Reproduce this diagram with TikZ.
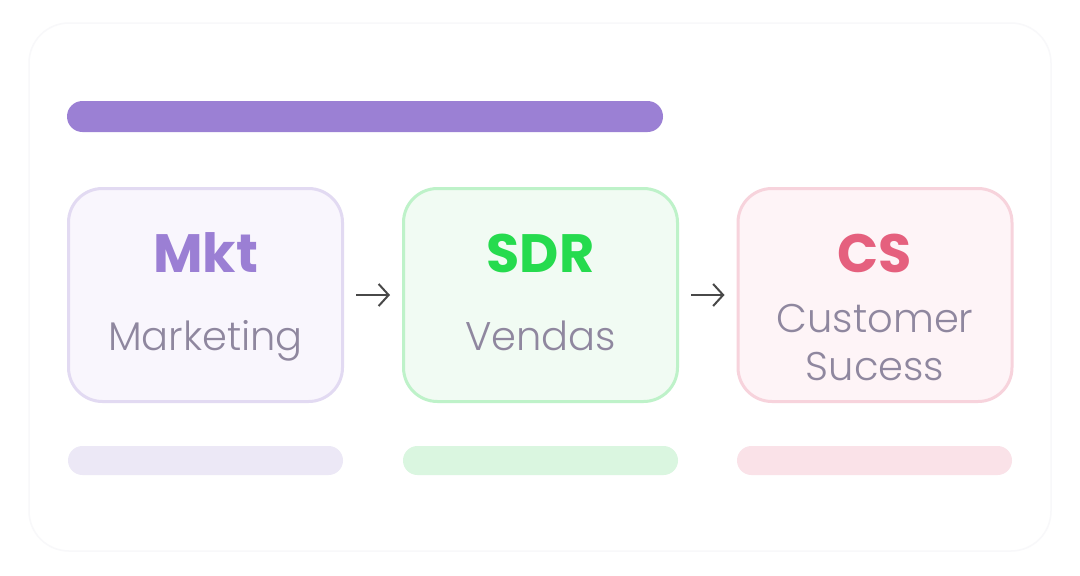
\documentclass[tikz,border=0pt]{standalone}
\usepackage{fontspec}
\setmainfont{Poppins}
\newfontfamily\lightfont{Poppins Light}
\usetikzlibrary{arrows.meta}
\definecolor{barpurple}{HTML}{9B80D4}
\definecolor{cardline}{HTML}{F8F8FA}
\definecolor{mktline}{HTML}{E2DAF2}
\definecolor{mktfill}{HTML}{F9F6FD}
\definecolor{sdrline}{HTML}{BEF2C9}
\definecolor{sdrfill}{HTML}{F1FBF3}
\definecolor{csline}{HTML}{F7D3DC}
\definecolor{csfill}{HTML}{FEF4F7}
\definecolor{mkttext}{HTML}{9B7FD4}
\definecolor{sdrtext}{HTML}{26DB4E}
\definecolor{cstext}{HTML}{E5607E}
\definecolor{subtext}{HTML}{8F879F}
\definecolor{mktbar}{HTML}{ECE8F6}
\definecolor{sdrbar}{HTML}{DAF6E0}
\definecolor{csbar}{HTML}{FAE2E8}
\definecolor{arrowgrey}{HTML}{484848}
\tikzset{
  stagebox/.style={draw, line width=3pt, rounded corners=34pt, minimum width=274pt, minimum height=213pt, inner sep=0pt},
  pill/.style={rounded corners=14.5pt, minimum width=275pt, minimum height=29pt, inner sep=0pt},
  titletext/.style={anchor=base, font=\fontsize{54}{60}\selectfont\bfseries},
  subtitletext/.style={anchor=base, text=subtext, font=\lightfont\fontsize{40}{48}\selectfont},
  flow/.style={draw=arrowgrey, line width=2pt, shorten <=12pt, shorten >=12pt, -{Straight Barb[length=10pt,width=22pt]}}
}
\begin{document}
\begin{tikzpicture}[x=1pt,y=-1pt]
\useasboundingbox (0,0) rectangle (1080,576);
\fill[white] (0,0) rectangle (1080,576);
\node[draw=cardline, line width=1.5pt, fill=white, rounded corners=40pt, minimum width=1022pt, minimum height=528pt, inner sep=0pt] (card) at (540,287) {};
\node[fill=barpurple, rounded corners=15.5pt, minimum width=596pt, minimum height=31pt, inner sep=0pt] (topbar) at (365,116.5) {};
\node[stagebox, draw=mktline, fill=mktfill] (mkt) at (205.5,295) {};
\node[stagebox, draw=sdrline, fill=sdrfill] (sdr) at (540.5,295) {};
\node[stagebox, draw=csline, fill=csfill] (cs) at (875,295) {};
\node[titletext, text=mkttext] (mktt) at (205.5,272) {Mkt};
\node[titletext, text=sdrtext] (sdrt) at (540.5,272) {SDR};
\node[titletext, text=cstext] (cst) at (875,272) {CS};
\node[subtitletext] (mkts) at (205.5,350) {Marketing};
\node[subtitletext] (sdrs) at (540.5,350) {Vendas};
\node[subtitletext] (css1) at (875,332) {Customer};
\node[subtitletext] (css2) at (875,380) {Sucess};
\draw[flow] (mkt.east) -- (sdr.west);
\draw[flow] (sdr.east) -- (cs.west);
\node[pill, fill=mktbar] (mktb) at (205.5,460.5) {};
\node[pill, fill=sdrbar] (sdrb) at (540.5,460.5) {};
\node[pill, fill=csbar] (csb) at (874.5,460.5) {};
\end{tikzpicture}
\end{document}
